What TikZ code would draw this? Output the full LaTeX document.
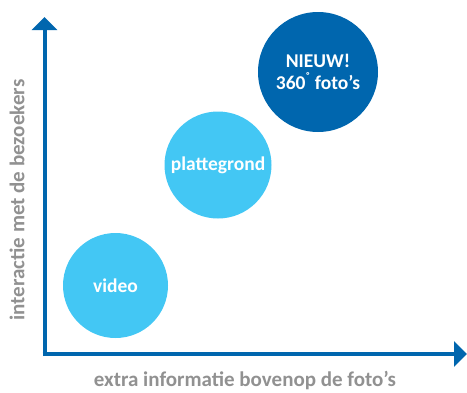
\documentclass[tikz,border=0pt]{standalone}
\usepackage{fontspec}
\setmainfont{Carlito}
\usetikzlibrary{arrows.meta}
\definecolor{darkblue}{HTML}{0066AE}
\definecolor{lightblue}{HTML}{43C7F4}
\definecolor{axisgray}{HTML}{919191}
\begin{document}
\begin{tikzpicture}[x=1pt,y=-1pt,
  axis/.style={draw=darkblue,line width=4pt,-{Triangle[width=25pt,length=13pt]}},
  bubble/.style={circle,inner sep=0pt,text=white,font=\bfseries\fontsize{19.5}{22.5}\selectfont,align=center},
  axislabel/.style={text=axisgray,font=\bfseries\fontsize{21}{25}\selectfont}]
\useasboundingbox (0,0) rectangle (467,392);
\coordinate (ytop) at (44.5,17);
\coordinate (xend) at (467,354);
\draw[axis] (44.5,356) -- (ytop);
\draw[axis] (42.5,354) -- (xend);
\node[bubble,fill=lightblue,minimum size=105pt] (video) at (115.5,285.5) {video};
\node[bubble,fill=lightblue,minimum size=107pt] (plat) at (218,165) {plattegrond};
\node[bubble,fill=darkblue,minimum size=120pt] (nieuw) at (318,72) {NIEUW!\\360\textsuperscript{˚} foto’s};
\node[axislabel] (xlabel) at (245,381) {extra informatie bovenop de foto’s};
\node[axislabel,rotate=90] (ylabel) at (17,200) {interactie met de bezoekers};
\end{tikzpicture}
\end{document}
